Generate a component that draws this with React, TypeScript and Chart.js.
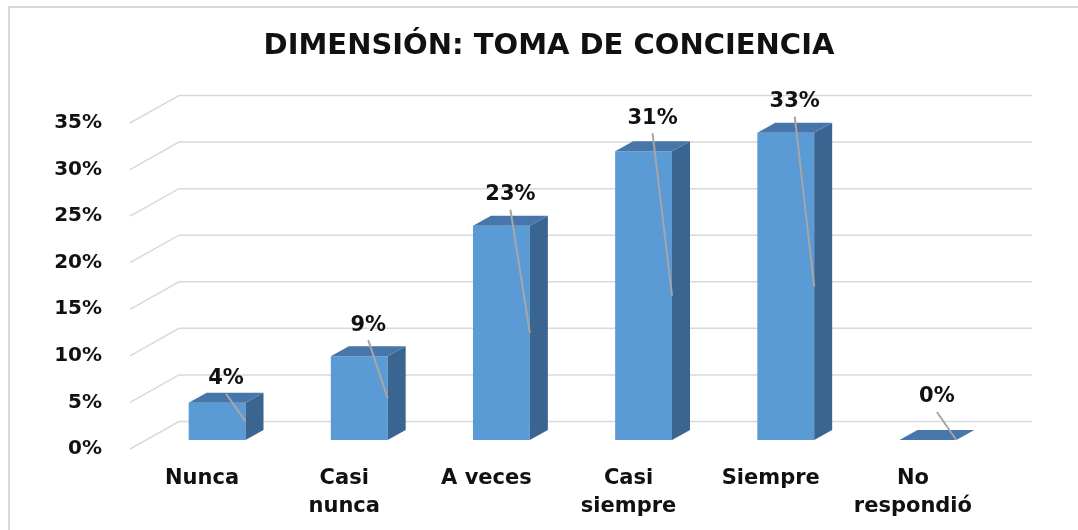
import React, { useEffect, useRef } from "react";
import { Chart, registerables } from "chart.js";

Chart.register(...registerables);

// ---- data ----
const titleText = "DIMENSIÓN: TOMA DE CONCIENCIA";
const categories: string[][] = [
  ["Nunca"],
  ["Casi", "nunca"],
  ["A veces"],
  ["Casi", "siempre"],
  ["Siempre"],
  ["No", "respondió"],
];
const values: number[] = [4, 9, 23, 31, 33, 0];
const yMin = 0;
const yMax = 35;
const yStep = 5;

// ---- style ----
const FRONT = "#5B9BD5";
const TOP = "#4676AA";
const SIDE = "#3A6591";
const GRID = "#D9D9D9";
const LEADER = "#A6A6A6";
const TEXT = "#111111";
const DEPTH_X = 18;
const DEPTH_Y = -10;
const labelLift = [24, 31, 31, 33, 31, 43];

const threeD = {
  id: "threeD",
  beforeDraw(chart: any) {
    const ctx = chart.ctx;
    ctx.save();
    ctx.fillStyle = "#ffffff";
    ctx.fillRect(0, 0, chart.width, chart.height);
    ctx.strokeStyle = GRID;
    ctx.lineWidth = 2;
    ctx.beginPath();
    ctx.moveTo(9, chart.height + 5);
    ctx.lineTo(9, 7);
    ctx.lineTo(chart.width + 5, 7);
    ctx.stroke();
    ctx.restore();
  },
  beforeDatasetsDraw(chart: any) {
    const ctx = chart.ctx;
    const ys = chart.scales.y;
    const area = chart.chartArea;
    ctx.save();
    ctx.strokeStyle = GRID;
    ctx.lineWidth = 1.5;
    ys.ticks.forEach((t: any) => {
      const y = ys.getPixelForValue(t.value);
      ctx.beginPath();
      ctx.moveTo(area.left - 16, y + 9);
      ctx.lineTo(area.left + 33, y - 18.5);
      ctx.lineTo(area.right + 33, y - 18.5);
      ctx.stroke();
    });
    ctx.restore();
  },
  afterDatasetsDraw(chart: any) {
    const ctx = chart.ctx;
    const meta = chart.getDatasetMeta(0);
    ctx.save();
    meta.data.forEach((bar: any, i: number) => {
      const { x, y, base, width } = bar.getProps(["x", "y", "base", "width"], true);
      const L = x - width / 2;
      const R = x + width / 2;
      // side face
      ctx.fillStyle = SIDE;
      ctx.beginPath();
      ctx.moveTo(R, y);
      ctx.lineTo(R + DEPTH_X, y + DEPTH_Y);
      ctx.lineTo(R + DEPTH_X, base + DEPTH_Y);
      ctx.lineTo(R, base);
      ctx.closePath();
      ctx.fill();
      // top face
      ctx.fillStyle = TOP;
      ctx.beginPath();
      ctx.moveTo(L, y);
      ctx.lineTo(L + DEPTH_X, y + DEPTH_Y);
      ctx.lineTo(R + DEPTH_X, y + DEPTH_Y);
      ctx.lineTo(R, y);
      ctx.closePath();
      ctx.fill();
      // label + leader
      const lx = x + DEPTH_X / 2;
      const ly = y - labelLift[i];
      ctx.strokeStyle = LEADER;
      ctx.lineWidth = 2;
      ctx.beginPath();
      ctx.moveTo(lx, ly + 15);
      ctx.lineTo(R, (y + base) / 2);
      ctx.stroke();
      ctx.fillStyle = TEXT;
      ctx.font = "bold 21px 'DejaVu Sans'";
      ctx.textAlign = "center";
      ctx.textBaseline = "middle";
      ctx.fillText(values[i] + "%", lx, ly);
    });
    ctx.restore();
  },
};

export default function App() {
  const ref = useRef<HTMLCanvasElement | null>(null);
  useEffect(() => {
    if (!ref.current) return;
    const chart = new Chart(ref.current, {
      type: "bar",
      data: {
        labels: categories,
        datasets: [
          {
            data: values,
            backgroundColor: FRONT,
            borderWidth: 0,
            barPercentage: 0.8,
            categoryPercentage: 0.5,
            yAxisID: "y",
          },
        ],
      },
      options: {
        animation: false,
        responsive: false,
        layout: { padding: { left: 20, right: 0, top: 0, bottom: 0 } },
        plugins: {
          legend: { display: false },
          tooltip: { enabled: false },
          title: {
            display: true,
            text: titleText,
            color: TEXT,
            font: { family: "'DejaVu Sans'", weight: "bold", size: 29, lineHeight: 1.2 },
            padding: { top: 29.5, bottom: 49.7 },
          },
        },
        scales: {
          x: {
            grid: { display: false, drawTicks: false },
            border: { display: false },
            ticks: {
              color: TEXT,
              padding: 24,
              labelOffset: -15,
              maxRotation: 0,
              autoSkip: false,
              font: { family: "'DejaVu Sans'", weight: "bold", size: 21, lineHeight: 1.35 },
            },
            afterFit: (s: any) => {
              s.height = 90;
            },
          },
          y: {
            min: yMin,
            max: yMax,
            grid: { display: false, drawTicks: false },
            border: { display: false },
            ticks: {
              stepSize: yStep,
              color: TEXT,
              padding: 44,
              labelOffset: 9,
              font: { family: "'DejaVu Sans'", weight: "bold", size: 20 },
              callback: (v: any) => v + "%",
            },
            afterFit: (s: any) => {
              s.width = 126;
            },
          },
          yRight: {
            position: "right",
            min: yMin,
            max: yMax,
            grid: { display: false, drawTicks: false },
            border: { display: false },
            ticks: { display: false },
            afterFit: (s: any) => {
              s.width = 79;
            },
          },
        },
      },
      plugins: [threeD],
    });
    return () => chart.destroy();
  }, []);
  return (
    <div style={{ position: "absolute", left: 0, top: 0, width: 1078, height: 530 }}>
      <canvas ref={ref} width={1078} height={530} />
    </div>
  );
}
